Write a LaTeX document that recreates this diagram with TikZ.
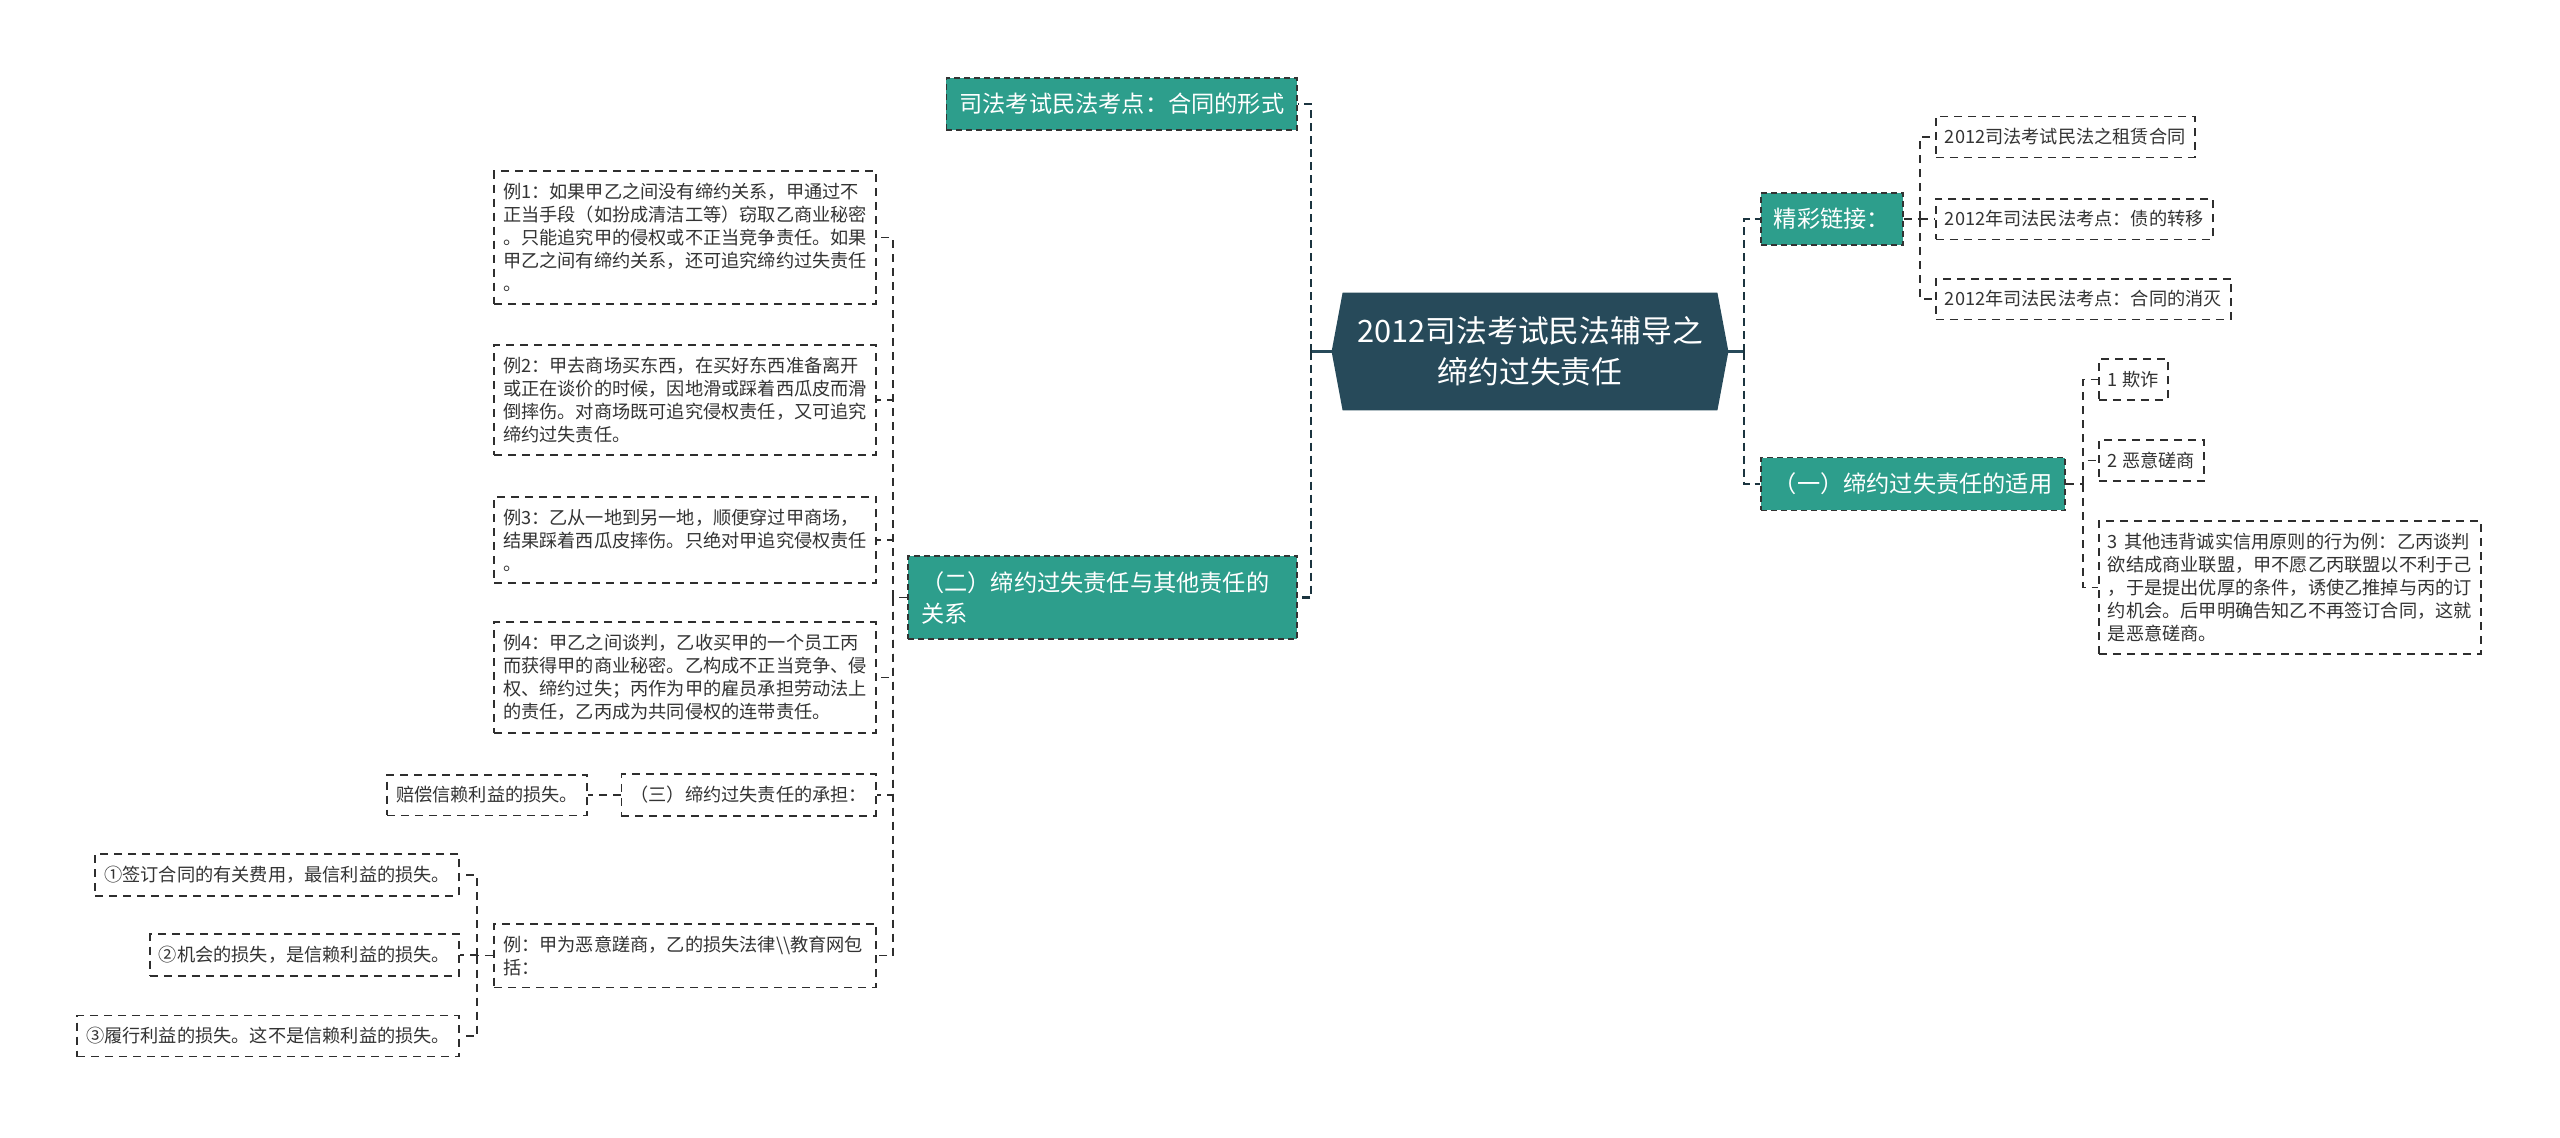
\documentclass[tikz,border=0pt]{standalone}
\usepackage{fontspec}
\setmainfont{Noto Sans CJK SC}
\usetikzlibrary{backgrounds}
\definecolor{rootc}{HTML}{274A5A}
\definecolor{tealc}{HTML}{2D9E8C}
\definecolor{inkc}{HTML}{333333}
\definecolor{linec}{HTML}{2E2E2E}

\begin{document}
\begin{tikzpicture}[x=0.5pt, y=-0.5pt,
        hub/.style={minimum width=198pt, minimum height=58.5pt, inner sep=0pt, align=center,
          text=white, font=\fontsize{15.4pt}{20.5pt}\selectfont},
        topic/.style={draw=inkc, fill=tealc, line width=0.8pt, dash pattern=on 3pt off 2pt,
          text=white, font=\fontsize{11.6pt}{15.5pt}\selectfont, inner xsep=6.5pt, inner ysep=7.7pt, align=left},
        leaf/.style={draw=linec, fill=white, line width=0.95pt, dash pattern=on 4pt off 3pt,
          text=inkc, font=\fontsize{9.1pt}{11.5pt}\selectfont, inner xsep=4.5pt, inner ysep=6pt, align=left},
        leafw/.style={leaf, text width=182pt},
        stem/.style={draw=rootc, line width=1.6pt},
        spine/.style={draw=rootc!70!black, line width=1.3pt, dash pattern=on 4pt off 2.5pt},
        twig/.style={draw=linec, line width=0.95pt, dash pattern=on 4pt off 3pt}]
        \useasboundingbox (0,0) rectangle (2560,1137);
        \node[hub] (root) at (1530,351.5) {2012司法考试民法辅导之\\缔约过失责任};
        \node[topic, anchor=east] (form) at (1298,104) {司法考试民法考点：合同的形式};
        \node[topic, anchor=east, text width=181.5pt] (rel) at (1298,597.5) {（二）缔约过失责任与其他责任的\\关系};
        \node[topic, anchor=west] (links) at (1760,219) {精彩链接：};
        \node[topic, anchor=west] (apply) at (1760,484) {（一）缔约过失责任的适用};
        \node[leafw, anchor=east] (ex1) at (877,237.5) {例1：如果甲乙之间没有缔约关系，甲通过不\\正当手段（如扮成清洁工等）窃取乙商业秘密\\。只能追究甲的侵权或不正当竞争责任。如果\\甲乙之间有缔约关系，还可追究缔约过失责任\\。};
        \node[leafw, anchor=east] (ex2) at (877,400) {例2：甲去商场买东西，在买好东西准备离开\\或正在谈价的时候，因地滑或踩着西瓜皮而滑\\倒摔伤。对商场既可追究侵权责任，又可追究\\缔约过失责任。};
        \node[leafw, anchor=east] (ex3) at (877,540) {例3：乙从一地到另一地，顺便穿过甲商场，\\结果踩着西瓜皮摔伤。只绝对甲追究侵权责任\\。};
        \node[leafw, anchor=east] (ex4) at (877,677.5) {例4：甲乙之间谈判，乙收买甲的一个员工丙\\而获得甲的商业秘密。乙构成不正当竞争、侵\\权、缔约过失；丙作为甲的雇员承担劳动法上\\的责任，乙丙成为共同侵权的连带责任。};
        \node[leaf, anchor=east] (bear) at (877,795) {（三）缔约过失责任的承担：};
        \node[leaf, anchor=east] (comp) at (588,795) {赔偿信赖利益的损失。};
        \node[leafw, anchor=east] (case) at (877,955.5) {例：甲为恶意蹉商，乙的损失法律\textbackslash\textbackslash 教育网包\\括：};
        \node[leaf, anchor=east] (loss1) at (460,875) {①签订合同的有关费用，最信利益的损失。};
        \node[leaf, anchor=east] (loss2) at (460,955) {②机会的损失，是信赖利益的损失。};
        \node[leaf, anchor=east] (loss3) at (460,1036) {③履行利益的损失。这不是信赖利益的损失。};
        \node[leaf, anchor=west] (lk1) at (1935,137) {2012司法考试民法之租赁合同};
        \node[leaf, anchor=west] (lk2) at (1935,219) {2012年司法民法考点：债的转移};
        \node[leaf, anchor=west] (lk3) at (1935,299) {2012年司法民法考点：合同的消灭};
        \node[leaf, anchor=west] (ap1) at (2098,379.5) {1 欺诈};
        \node[leaf, anchor=west] (ap2) at (2098,460.5) {2 恶意磋商};
        \node[leafw, anchor=west] (ap3) at (2098,587.5) {3 其他违背诚实信用原则的行为例：乙丙谈判\\欲结成商业联盟，甲不愿乙丙联盟以不利于己\\，于是提出优厚的条件，诱使乙推掉与丙的订\\约机会。后甲明确告知乙不再签订合同，这就\\是恶意磋商。};
        \coordinate (lj) at (1311,351.5);
        \coordinate (rj) at (1744,351.5);
        \coordinate (j2) at (893,597.5);
        \coordinate (j3) at (477,955.5);
        \coordinate (j4) at (1920,219);
        \coordinate (j5) at (2083,484);
        \draw[stem] (root.west) -- (lj);
        \draw[spine] (lj) |- (form.east);
        \draw[spine] (lj) |- (rel.east);
        \draw[stem] (root.east) -- (rj);
        \draw[spine] (rj) |- (links.west);
        \draw[spine] (rj) |- (apply.west);
        \draw[twig] (rel.west) -- (j2);
        \draw[twig] (j2) |- (ex1.east);
        \draw[twig] (j2) |- (ex2.east);
        \draw[twig] (j2) |- (ex3.east);
        \draw[twig] (j2) |- (ex4.east);
        \draw[twig] (j2) |- (bear.east);
        \draw[twig] (j2) |- (case.east);
        \draw[twig] (bear.west) -- (comp.east);
        \draw[twig] (case.west) -- (j3);
        \draw[twig] (j3) |- (loss1.east);
        \draw[twig] (j3) |- (loss2.east);
        \draw[twig] (j3) |- (loss3.east);
        \draw[twig] (links.east) -- (j4);
        \draw[twig] (j4) |- (lk1.west);
        \draw[twig] (j4) |- (lk2.west);
        \draw[twig] (j4) |- (lk3.west);
        \draw[twig] (apply.east) -- (j5);
        \draw[twig] (j5) |- (ap1.west);
        \draw[twig] (j5) |- (ap2.west);
        \draw[twig] (j5) |- (ap3.west);
        \begin{scope}[on background layer]
          \fill[white] (0,0) rectangle (2560,1137);
          \fill[rootc] (root.west) -- ([xshift=5.5pt]root.north west) -- ([xshift=-5.5pt]root.north east)
            -- (root.east) -- ([xshift=-5.5pt]root.south east) -- ([xshift=5.5pt]root.south west) -- cycle;
        \end{scope}
      \end{tikzpicture}
\end{document}
